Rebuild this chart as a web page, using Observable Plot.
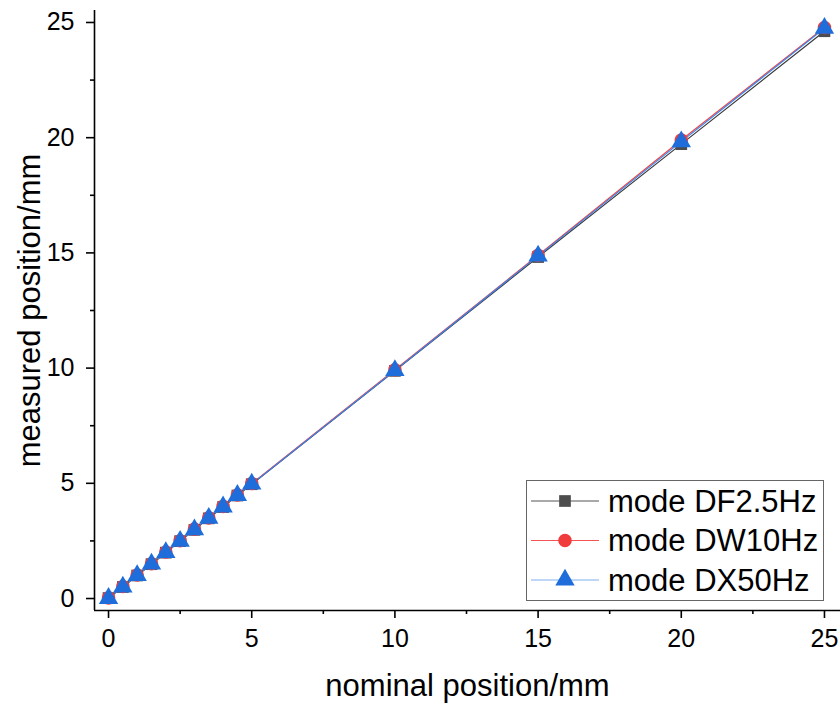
<!DOCTYPE html>
<html>
<head>
<meta charset="utf-8">
<script src="https://cdn.jsdelivr.net/npm/d3@7"></script>
<script src="https://cdn.jsdelivr.net/npm/@observablehq/plot@0.6"></script>
<style>
  html, body { margin: 0; padding: 0; background: #fff; }
  #wrap { position: relative; width: 840px; height: 704px; }
  #legend { position: absolute; left: 0; top: 0; }
  #wrap g[aria-label="x-axis tick label"], #wrap g[aria-label="y-axis tick label"] { font-size: 25px !important; }
</style>
</head>
<body>
<div id="wrap"></div>
<script>
// ---- data ----
const nominal = [0, 0.5, 1, 1.5, 2, 2.5, 3, 3.5, 4, 4.5, 5, 10, 15, 20, 25];
const modeDF = [0.02, 0.50, 1.00, 1.49, 1.99, 2.49, 2.98, 3.48, 3.97, 4.47, 4.96, 9.88, 14.82, 19.72, 24.62];
const modeDW = [0.03, 0.52, 1.02, 1.51, 2.02, 2.51, 3.01, 3.50, 4.00, 4.49, 4.99, 9.93, 14.90, 19.90, 24.78];
const modeDX = [0.01, 0.50, 1.00, 1.50, 2.00, 2.49, 2.99, 3.49, 3.98, 4.48, 4.97, 9.90, 14.87, 19.83, 24.75];
const seriesNames = ["mode DF2.5Hz", "mode DW10Hz", "mode DX50Hz"];
const majorTicks = [0, 5, 10, 15, 20, 25];
const minorTicks = [2.5, 7.5, 12.5, 17.5, 22.5];

const seriesStyle = [
  {values: modeDF, symbol: "square", fill: "#4d4d4d", line: "#3a3a3a", r: 6.6},
  {values: modeDW, symbol: "circle", fill: "#f03c3c", line: "#f24545", r: 6.8},
  {values: modeDX, symbol: "triangle", fill: "#1e6ddb", line: "#3b82ea", r: 7.2}
];

const table = s => nominal.map((x, i) => ({x, y: s.values[i]}));

const font = "'Liberation Sans', Arial, sans-serif";
const marks = [];
const xDom = [-0.49, 25.56], yDom = [-0.52, 25.52];
for (const s of seriesStyle) {
  marks.push(Plot.line(table(s), {x: "x", y: "y", stroke: s.line, strokeWidth: 1.2}));
}
for (const s of seriesStyle) {
  marks.push(Plot.dot(table(s), {x: "x", y: "y", symbol: () => s.symbol, fill: s.fill, stroke: "none", r: s.r}));
}
marks.push(
  Plot.ruleX([xDom[0]], {stroke: "#000", strokeWidth: 1.6}),
  Plot.ruleY([yDom[0]], {stroke: "#000", strokeWidth: 1.6}),
  Plot.axisX(majorTicks, {tickSize: 8, tickPadding: 11, strokeWidth: 1.6, label: null, fontSize: 25, tickFormat: d => String(d)}),
  Plot.axisX(minorTicks, {tickSize: 4, strokeWidth: 1.6, label: null, tickFormat: () => ""}),
  Plot.axisY(majorTicks, {tickSize: 8, tickPadding: 12, strokeWidth: 1.6, label: null, fontSize: 25, tickFormat: d => String(d)}),
  Plot.axisY(minorTicks, {tickSize: 4, strokeWidth: 1.6, label: null, tickFormat: () => ""}),
  Plot.text(["nominal position/mm"], {frameAnchor: "bottom", dy: 76, fontSize: 31, textAnchor: "middle", lineAnchor: "middle", fill: "#000"}),
  Plot.text(["measured position/mm"], {frameAnchor: "left", dx: -64, rotate: -90, fontSize: 31, textAnchor: "middle", lineAnchor: "middle", fill: "#000"})
);

const chart = Plot.plot({
  width: 840, height: 704,
  marginLeft: 94, marginRight: 0, marginTop: 10, marginBottom: 94,
  style: {fontFamily: font, fontSize: "25px", color: "#000", background: "#fff", overflow: "visible"},
  x: {domain: xDom, label: null},
  y: {domain: yDom, label: null},
  symbol: {type: "identity"},
  marks
});
document.getElementById("wrap").appendChild(chart);

// ---- legend (overlay) ----
const ns = "http://www.w3.org/2000/svg";
const lg = document.createElementNS(ns, "svg");
lg.setAttribute("id", "legend");
lg.setAttribute("width", 840); lg.setAttribute("height", 704);
const el = (tag, attrs, parent) => { const e = document.createElementNS(ns, tag); for (const k in attrs) e.setAttribute(k, attrs[k]); (parent || lg).appendChild(e); return e; };
el("rect", {x: 526.5, y: 480.5, width: 297, height: 120, fill: "#fff", stroke: "#666", "stroke-width": 1});
const legendLine = ["#555555", "#f55454", "#7fb0f0"];
seriesNames.forEach((name, i) => {
  const cy = 501 + i * 39.5;
  el("line", {x1: 531, x2: 599, y1: cy, y2: cy, stroke: legendLine[i], "stroke-width": 1.2});
  const s = seriesStyle[i];
  const sym = d3.symbol(s.symbol === "square" ? d3.symbolSquare : s.symbol === "circle" ? d3.symbolCircle : d3.symbolTriangle, Math.PI * s.r * s.r)();
  el("path", {d: sym, transform: `translate(565,${cy})`, fill: s.fill});
  const t = el("text", {x: 608, y: cy, "dominant-baseline": "central", "font-size": 31, "font-family": font, fill: "#000"});
  t.textContent = name;
});
document.getElementById("wrap").appendChild(lg);
</script>
</body>
</html>
